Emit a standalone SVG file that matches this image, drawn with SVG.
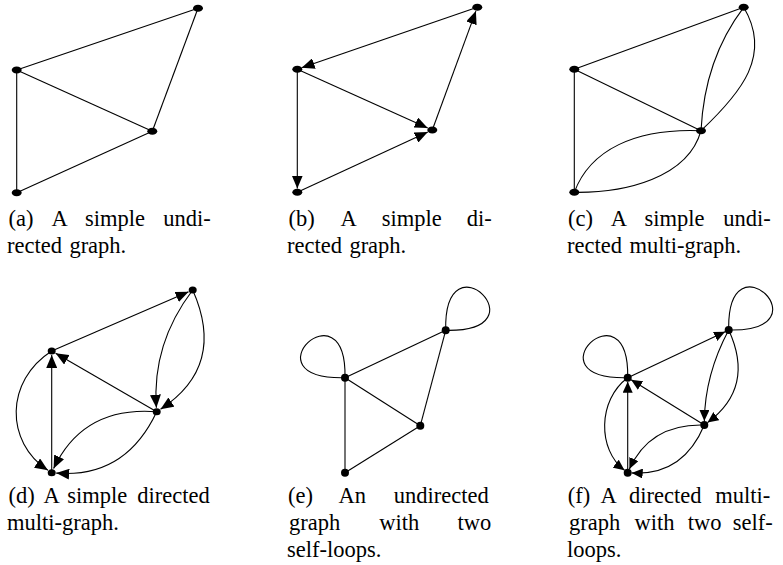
<svg xmlns="http://www.w3.org/2000/svg" width="783" height="565" viewBox="0 0 783 565">
<defs>
<style>
.e{fill:none;stroke:#000;stroke-width:1.1}
.a{marker-end:url(#ah)}
.s{marker-end:url(#ahs)}
.n{fill:#000}
.cap{font-family:"Liberation Serif","Times New Roman",serif;font-size:22.5px;fill:#000}
.m{text-anchor:middle}
</style>
<marker id="ah" viewBox="0 0 13 11" refX="13" refY="5.5" markerWidth="13" markerHeight="11" markerUnits="userSpaceOnUse" orient="auto"><path d="M0,0 L13,5.5 L0,11 z" fill="#000"/></marker>
<marker id="ahs" viewBox="0 0 11 10" refX="11" refY="5" markerWidth="11" markerHeight="10" markerUnits="userSpaceOnUse" orient="auto"><path d="M0,0 L11,5 L0,10 z" fill="#000"/></marker>
</defs>
<rect width="783" height="565" fill="#fff"/>

<!-- (a) -->
<g id="graph-a">
<g id="a-edges">
<path class="e" d="M16.7,70 L198,8.3"/>
<path class="e" d="M16.7,70 L152.3,131.3"/>
<path class="e" d="M16.7,70 L16.7,192.7"/>
<path class="e" d="M152.3,131.3 L198,8.3"/>
<path class="e" d="M16.7,192.7 L152.3,131.3"/>
</g>
<g id="a1"><ellipse class="n" cx="198" cy="8.3" rx="5" ry="3.5"/></g>
<g id="a2"><ellipse class="n" cx="16.7" cy="70" rx="5" ry="3.5"/></g>
<g id="a3"><ellipse class="n" cx="152.3" cy="131.3" rx="5" ry="3.5"/></g>
<g id="a4"><ellipse class="n" cx="16.7" cy="192.7" rx="5" ry="3.5"/></g>
</g>

<!-- (b) -->
<g id="graph-b">
<g id="b-edges">
<path class="e a" d="M477.3,7.3 L301.6,67.8"/>
<path class="e a" d="M297.3,69.3 L297.3,188.5"/>
<path class="e a" d="M297.3,69.3 L427.7,127.9"/>
<path class="e a" d="M297.3,192.3 L427.8,132.1"/>
<path class="e a" d="M432.3,130 L475.9,11.1"/>
</g>
<g id="b1"><ellipse class="n" cx="477.3" cy="7.3" rx="5" ry="3.5"/></g>
<g id="b2"><ellipse class="n" cx="297.3" cy="69.3" rx="5" ry="3.5"/></g>
<g id="b3"><ellipse class="n" cx="432.3" cy="130" rx="5" ry="3.5"/></g>
<g id="b4"><ellipse class="n" cx="297.3" cy="192.3" rx="5" ry="3.5"/></g>
</g>

<!-- (c) -->
<g id="graph-c">
<g id="c-edges">
<path class="e" d="M574.3,69.3 L743.7,7.3"/>
<path class="e" d="M574.3,69.3 L701,130.7"/>
<path class="e" d="M574.3,69.3 L574.3,192.3"/>
<path class="e" d="M701,130.7 C703,90 715,45 743.7,7.3"/>
<path class="e" d="M701,130.7 C742,92 772,55 743.7,7.3"/>
<path class="e" d="M574.3,192.3 C590,150 635,128 701,130.7"/>
<path class="e" d="M574.3,192.3 C625,193 688,178 701,130.7"/>
</g>
<g id="c1"><ellipse class="n" cx="743.7" cy="7.3" rx="5" ry="3.5"/></g>
<g id="c2"><ellipse class="n" cx="574.3" cy="69.3" rx="5" ry="3.5"/></g>
<g id="c3"><ellipse class="n" cx="701" cy="130.7" rx="5" ry="3.5"/></g>
<g id="c4"><ellipse class="n" cx="574.3" cy="192.3" rx="5" ry="3.5"/></g>
</g>

<!-- (d) -->
<g id="graph-d">
<g id="d-edges">
<path class="e a" d="M51.7,351 L188.6,291.8"/>
<path class="e a" d="M156.7,411.7 L55.6,353.3"/>
<path class="e a" d="M51.7,472.7 L51.7,355"/>
<path class="e a" d="M192.7,290 Q151.7,344 156.4,407.7"/>
<path class="e a" d="M192.7,290 Q226.5,366.2 160.5,409.2"/>
<path class="e a" d="M51.7,351 C5,381 5,442 47.9,470.2"/>
<path class="e a" d="M156.7,411.7 Q83.1,405.9 53.6,468.6"/>
<path class="e a" d="M156.7,411.7 Q125.3,478.5 56.2,473.1"/>
</g>
<g id="d1"><ellipse class="n" cx="192.7" cy="290" rx="4" ry="3.5"/></g>
<g id="d2"><ellipse class="n" cx="51.7" cy="351" rx="4" ry="3.5"/></g>
<g id="d3"><ellipse class="n" cx="156.7" cy="411.7" rx="4" ry="3.5"/></g>
<g id="d4"><ellipse class="n" cx="51.7" cy="472.7" rx="4" ry="3.5"/></g>
</g>

<!-- (e) -->
<g id="graph-e">
<g id="e-edges">
<path class="e" d="M345,377.7 L445.7,330.3"/>
<path class="e" d="M345,377.7 L420.3,425.7"/>
<path class="e" d="M345,377.7 L345,472.7"/>
<path class="e" d="M420.3,425.7 L445.7,330.3"/>
<path class="e" d="M345,472.7 L420.3,425.7"/>
<path class="e" d="M345,377.7 C347,282 244,380 345,377.7"/>
<path class="e" d="M445.7,330.3 C443.7,232.3 545.7,332.3 445.7,330.3"/>
</g>
<g id="e1"><circle class="n" cx="445.7" cy="330.3" r="4"/></g>
<g id="e2"><circle class="n" cx="345" cy="377.7" r="4"/></g>
<g id="e3"><circle class="n" cx="420.3" cy="425.7" r="4"/></g>
<g id="e4"><circle class="n" cx="345" cy="472.7" r="4"/></g>
</g>

<!-- (f) -->
<g id="graph-f">
<g id="f-edges">
<path class="e s" d="M627.7,377.7 L725.1,331.7"/>
<path class="e s" d="M704.3,425 L631.1,379.8"/>
<path class="e s" d="M627.7,472.7 L627.7,381.7"/>
<path class="e s" d="M728.7,330 Q704.9,374.5 704.35,421"/>
<path class="e s" d="M728.7,330 Q755.2,387.5 707.5,422.6"/>
<path class="e s" d="M627.7,377.7 C597.5,400 597.5,450 624.5,470.3"/>
<path class="e s" d="M704.3,425 Q650.1,423.4 629.4,469.1"/>
<path class="e s" d="M704.3,425 Q682.9,476 631.7,472.9"/>
<path class="e" d="M627.7,377.7 C629.7,282 526.7,380 627.7,377.7"/>
<path class="e" d="M728.7,330 C726.7,232 828.7,332 728.7,330"/>
</g>
<g id="f1"><circle class="n" cx="728.7" cy="330" r="4"/></g>
<g id="f2"><circle class="n" cx="627.7" cy="377.7" r="4"/></g>
<g id="f3"><circle class="n" cx="704.3" cy="425" r="4"/></g>
<g id="f4"><circle class="n" cx="627.7" cy="472.7" r="4"/></g>
</g>

<!-- captions -->
<g id="captions">
<text class="cap m" y="226"><tspan x="21.06">(a)</tspan><tspan x="59.71">A</tspan><tspan x="114.93">simple</tspan><tspan x="186.95">undi-</tspan></text>
<text class="cap" x="7" y="253" word-spacing="1.8">rected graph.</text>

<text class="cap m" y="226"><tspan x="301.67">(b)</tspan><tspan x="348.67">A</tspan><tspan x="411.63">simple</tspan><tspan x="479.17">di-</tspan></text>
<text class="cap" x="287" y="253" word-spacing="1.8">rected graph.</text>

<text class="cap m" y="226"><tspan x="580.44">(c)</tspan><tspan x="618.9">A</tspan><tspan x="674.53">simple</tspan><tspan x="746.96">undi-</tspan></text>
<text class="cap" x="567" y="253" word-spacing="1.8">rected multi-graph.</text>

<text class="cap m" y="503"><tspan x="21.67">(d)</tspan><tspan x="51.54">A</tspan><tspan x="97.37">simple</tspan><tspan x="173.47">directed</tspan></text>
<text class="cap" x="7" y="530">multi-graph.</text>

<text class="cap m" y="503"><tspan x="300.44">(e)</tspan><tspan x="352.19">An</tspan><tspan x="441.25">undirected</tspan></text>
<text class="cap m" y="530"><tspan x="314.53">graph</tspan><tspan x="399.31">with</tspan><tspan x="474.28">two</tspan></text>
<text class="cap" x="287" y="557">self-loops.</text>

<text class="cap m" y="503"><tspan x="578.92">(f)</tspan><tspan x="608.73">A</tspan><tspan x="665.16">directed</tspan><tspan x="742.68">multi-</tspan></text>
<text class="cap m" y="530"><tspan x="594.53">graph</tspan><tspan x="654.48">with</tspan><tspan x="704.62">two</tspan><tspan x="752.68">self-</tspan></text>
<text class="cap" x="567" y="557">loops.</text>
</g>
</svg>
